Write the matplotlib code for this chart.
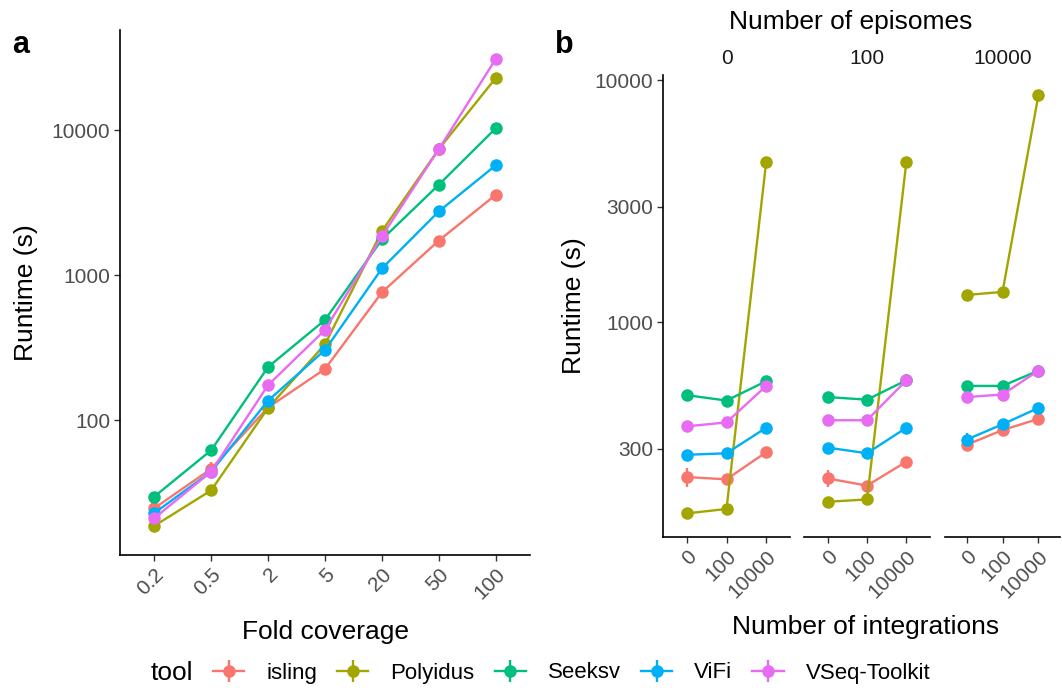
import matplotlib.pyplot as plt

plt.rcParams['font.family'] = ['Liberation Sans', 'DejaVu Sans']

tools = ['isling', 'Polyidus', 'Seeksv', 'ViFi', 'VSeq-Toolkit']
colors = ['#F8766D', '#A3A500', '#00BF7D', '#00B0F6', '#E76BF3']

# panel a: runtime vs fold coverage
coverage = ['0.2', '0.5', '2', '5', '20', '50', '100']
cov_runtime = {
    'isling':       [24.6, 46, 122, 225, 760, 1730, 3580],
    'Polyidus':     [18.6, 32.7, 121, 333, 2010, 7400, 22900],
    'Seeksv':       [29.6, 61.8, 232, 490, 1760, 4200, 10300],
    'ViFi':         [22.8, 44, 136, 304, 1110, 2750, 5720],
    'VSeq-Toolkit': [21, 44, 174, 418, 1850, 7390, 31000],
}
cov_err = {
    'isling':       [1.5, 5, 4, 8, 20, 40, 80],
    'Polyidus':     [0.5, 1, 3, 8, 40, 150, 400],
    'Seeksv':       [0.8, 1.5, 5, 10, 30, 80, 200],
    'ViFi':         [1.5, 1.5, 4, 8, 25, 60, 100],
    'VSeq-Toolkit': [1, 1.5, 4, 10, 40, 800, 600],
}

# panel b: runtime vs number of integrations, faceted by episomes
episomes = ['0', '100', '10000']
integrations = ['0', '100', '10000']
int_runtime = {
    '0': {
        'isling':       [229, 224, 290],
        'Polyidus':     [162, 169, 4590],
        'Seeksv':       [499, 474, 570],
        'ViFi':         [283, 287, 366],
        'VSeq-Toolkit': [371, 385, 545],
    },
    '100': {
        'isling':       [226, 211, 265],
        'Polyidus':     [181, 185, 4590],
        'Seeksv':       [490, 478, 575],
        'ViFi':         [303, 287, 366],
        'VSeq-Toolkit': [393, 393, 575],
    },
    '10000': {
        'isling':       [311, 358, 398],
        'Polyidus':     [1294, 1333, 8670],
        'Seeksv':       [545, 545, 630],
        'ViFi':         [327, 378, 442],
        'VSeq-Toolkit': [490, 502, 630],
    },
}
int_err = {
    '0':     {'isling': [20, 5, 5], 'ViFi': [3, 3, 4]},
    '100':   {'isling': [18, 5, 6], 'ViFi': [3, 3, 4]},
    '10000': {'isling': [5, 20, 6], 'ViFi': [20, 5, 5]},
}

W, H = 1062, 688
fig = plt.figure(figsize=(W / 100, H / 100), dpi=100)

tick_col = '#4D4D4D'
lw = 1.7
ms = 8
tick_fs = 15
title_fs = 19


def rect(x0, y0, x1, y1):
    return [x0 / W, 1 - y1 / H, (x1 - x0) / W, (y1 - y0) / H]


def style(ax, left=True):
    for s in ['top', 'right']:
        ax.spines[s].set_visible(False)
    ax.spines['bottom'].set_linewidth(1.2)
    ax.spines['left'].set_linewidth(1.2)
    ax.tick_params(axis='both', colors='#333333', labelcolor=tick_col,
                   labelsize=tick_fs, length=4, width=1.0, pad=3)
    ax.tick_params(axis='y', which='minor', length=0)
    if not left:
        ax.spines['left'].set_visible(False)
        ax.tick_params(axis='y', which='both', left=False, labelleft=False)


# ---- panel a
ax = fig.add_axes(rect(120, 30, 530, 555))
xs = list(range(len(coverage)))
for t, c in zip(tools, colors):
    ax.errorbar(xs, cov_runtime[t], yerr=cov_err[t], color=c, lw=lw,
                marker='o', ms=ms, elinewidth=lw, capsize=0)
ax.set_yscale('log')
ax.set_ylim(10 ** 1.069, 10 ** 4.69)
ax.set_xlim(-0.6, 6.6)
ax.set_yticks([100, 1000, 10000])
ax.set_yticklabels(['100', '1000', '10000'])
ax.set_xticks(xs)
ax.set_xticklabels(coverage, rotation=45, ha='right', va='top',
                   rotation_mode='anchor')
style(ax)
ax.set_xlabel('Fold coverage', fontsize=title_fs, labelpad=12)
ax.set_ylabel('Runtime (s)', fontsize=title_fs, labelpad=10)

# ---- panel b
facet_x = [(663, 790), (804, 930), (945, 1060)]
handles = []
for i, ep in enumerate(episomes):
    bx = fig.add_axes(rect(facet_x[i][0], 75, facet_x[i][1], 537))
    xi = list(range(len(integrations)))
    for t, c in zip(tools, colors):
        err = int_err[ep].get(t, [0, 0, 0])
        h = bx.errorbar(xi, int_runtime[ep][t], yerr=err, color=c, lw=lw,
                        marker='o', ms=ms, elinewidth=lw, capsize=0)
        if i == 0:
            handles.append(h)
    bx.set_yscale('log')
    bx.set_ylim(10 ** 2.112, 10 ** 4.021)
    bx.set_xlim(-0.6, 2.6)
    bx.set_yticks([300, 1000, 3000, 10000])
    bx.set_yticklabels(['300', '1000', '3000', '10000'])
    bx.set_xticks(xi)
    bx.set_xticklabels(integrations, rotation=45, ha='right', va='top',
                       rotation_mode='anchor')
    style(bx, left=(i == 0))
    bx.set_title(ep, fontsize=tick_fs, color='#1A1A1A', pad=8)
    if i == 0:
        bx.set_ylabel('Runtime (s)', fontsize=title_fs, labelpad=6)

fig.text(851 / W, 1 - 22 / H, 'Number of episomes', fontsize=title_fs,
         ha='center', va='center')
fig.text(866 / W, 1 - 627 / H, 'Number of integrations', fontsize=title_fs,
         ha='center', va='center')

fig.text(12 / W, 1 - 45 / H, 'a', fontsize=22, fontweight='bold', va='center')
fig.text(555 / W, 1 - 45 / H, 'b', fontsize=22, fontweight='bold', va='center')

# legend
fig.text(151 / W, 1 - 673 / H, 'tool', fontsize=title_fs, va='center')
fig.legend(handles, tools, loc='center left', ncol=5,
           bbox_to_anchor=(213 / W, 1 - 673 / H), frameon=False,
           fontsize=16, handlelength=1.4, columnspacing=0.9,
           handletextpad=1.0, borderaxespad=0, borderpad=0)

fig.savefig('out.png', dpi=100)
